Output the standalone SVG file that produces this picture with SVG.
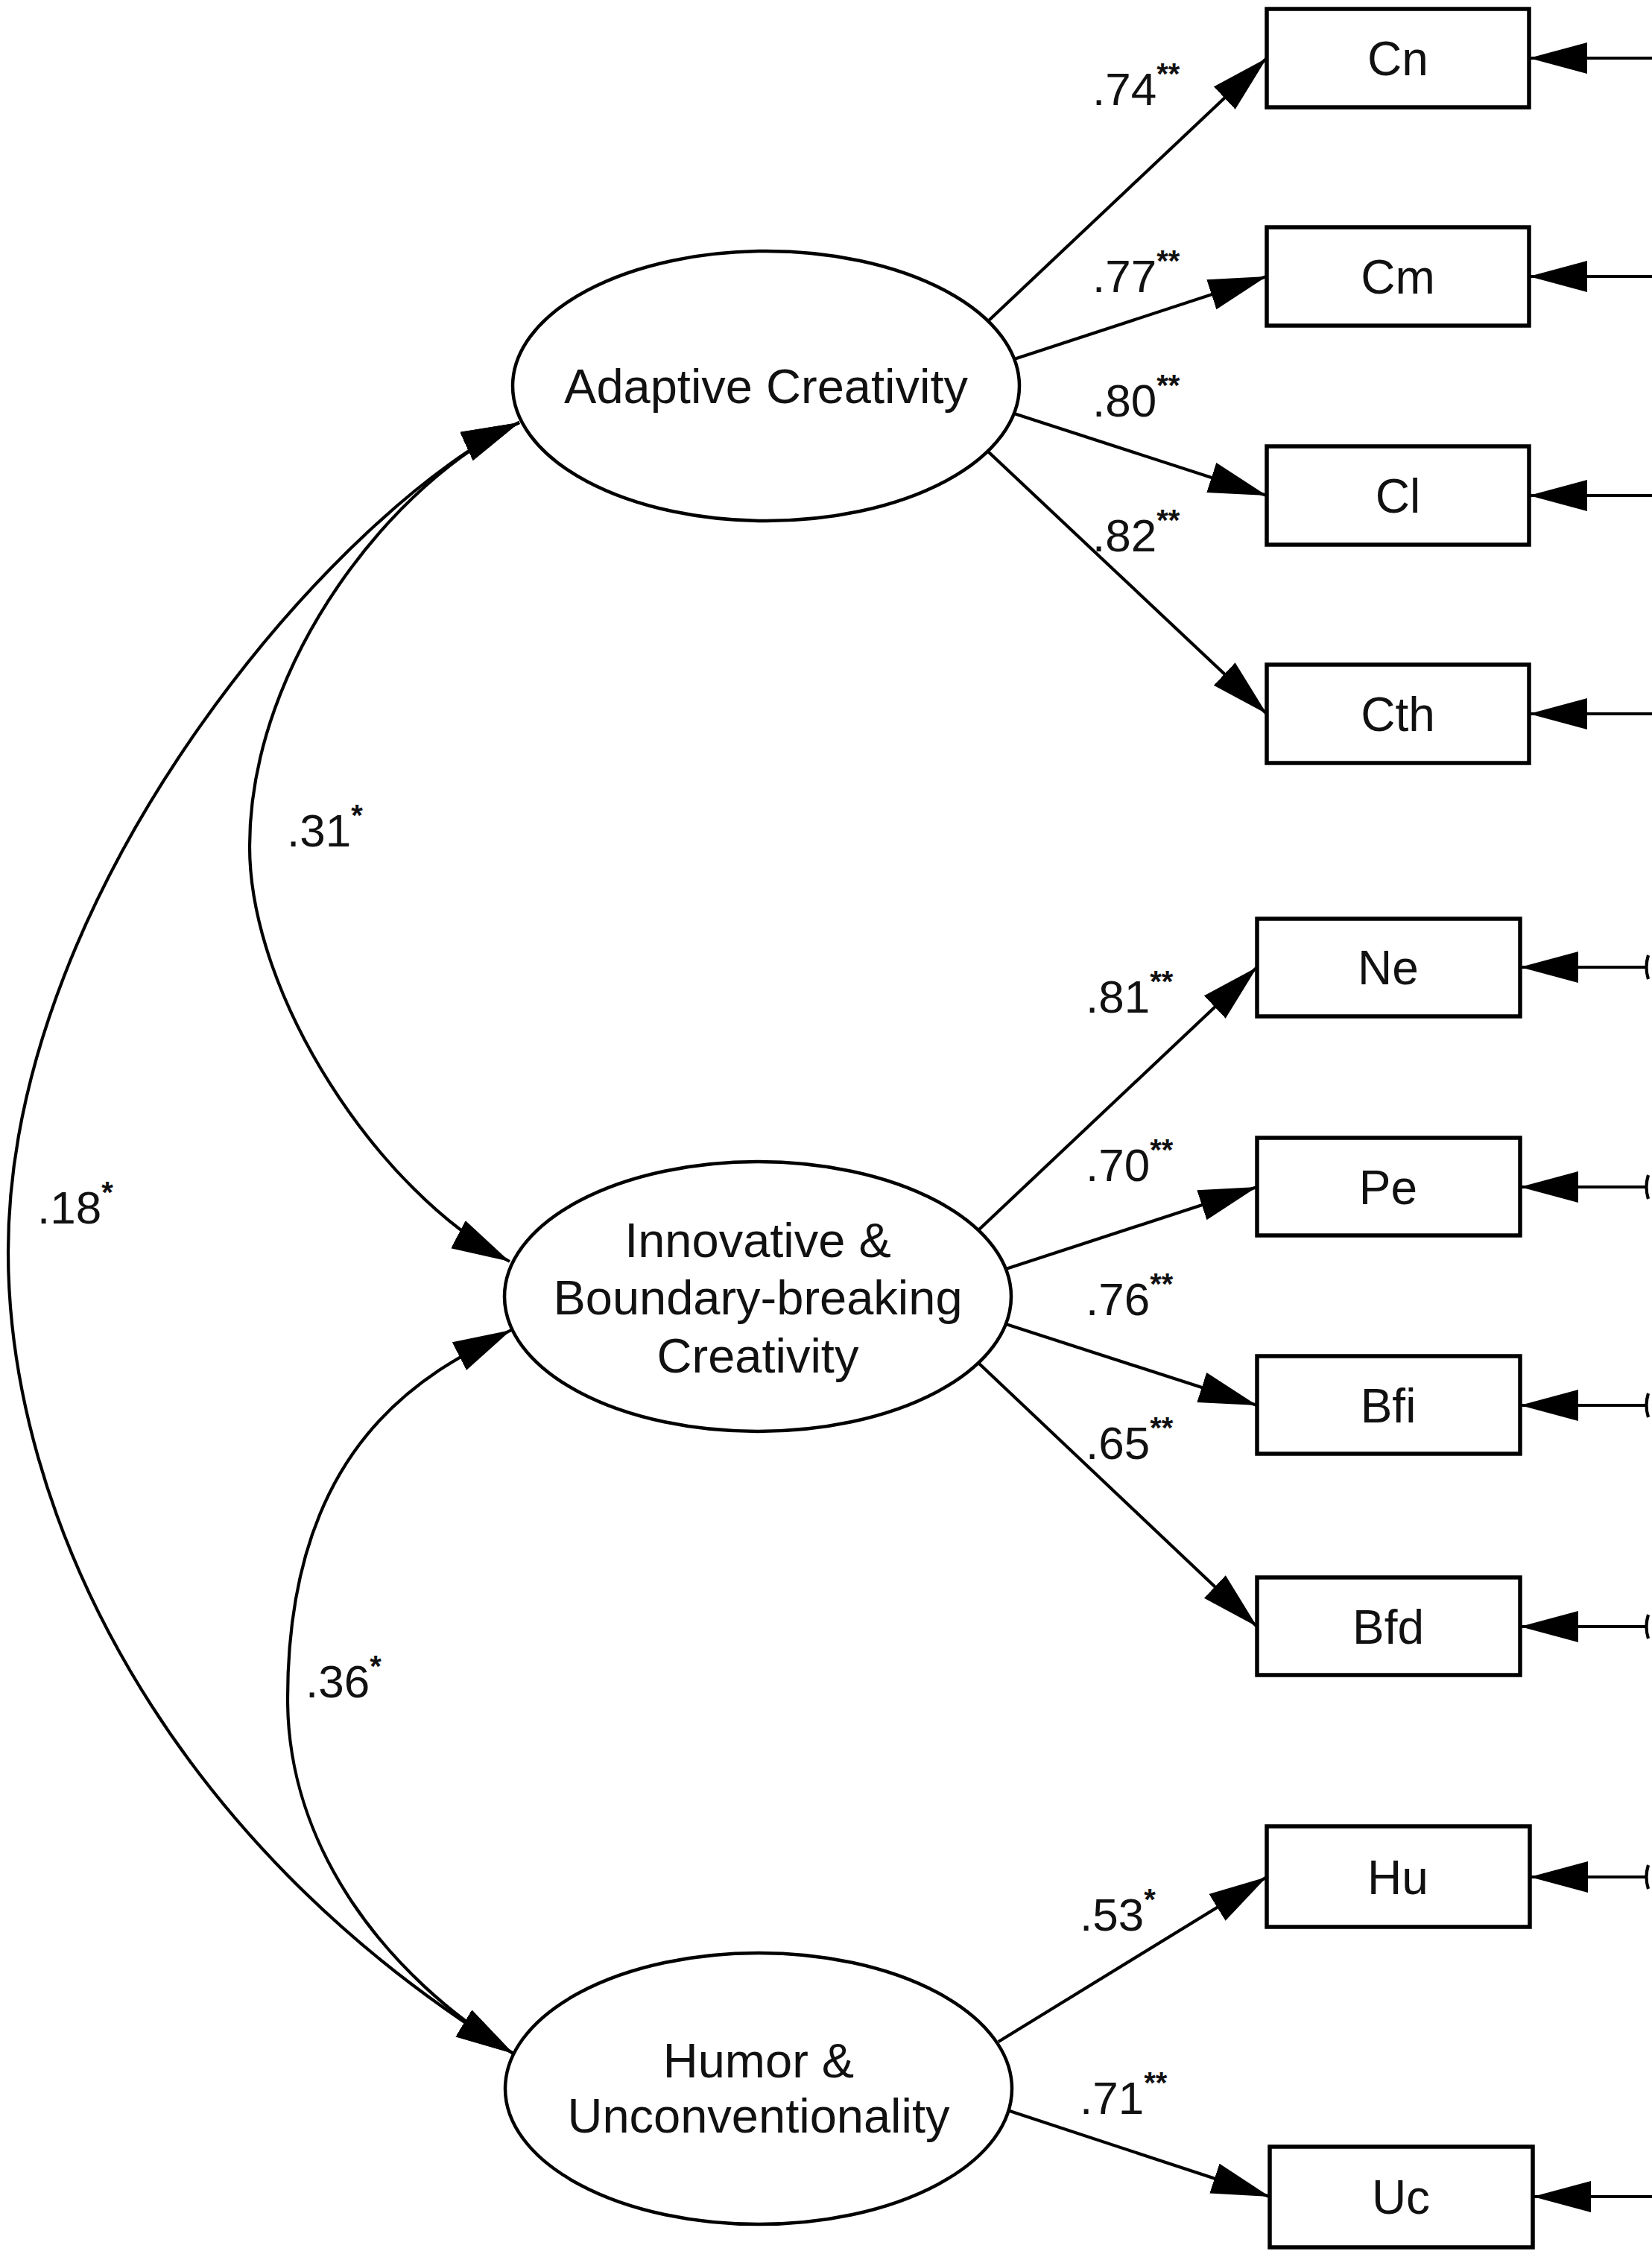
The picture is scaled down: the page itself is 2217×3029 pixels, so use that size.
<svg xmlns="http://www.w3.org/2000/svg" width="2217" height="3029" viewBox="0 0 2217 3029">
<style>
  .lat { fill: #fff; stroke: #000; stroke-width: 4.5; }
  .obs { fill: #fff; stroke: #000; stroke-width: 5.5; }
  .name { font-family: "Liberation Sans", Arial, sans-serif; font-size: 65px; fill: #111; text-anchor: middle; }
  .box { font-family: "Liberation Sans", Arial, sans-serif; font-size: 64px; fill: #111; text-anchor: middle; }
  .lbl { font-family: "Liberation Sans", Arial, sans-serif; font-size: 62px; fill: #111; }
  .sup { font-size: 40px; font-weight: bold; }
  .ln { fill: none; stroke: #000; stroke-width: 4.2; }
  .arr { marker-end: url(#ah); }
  .dbl { marker-start: url(#ah); marker-end: url(#ah); }
</style>
<defs>
  <marker id="ah" markerUnits="userSpaceOnUse" viewBox="0 0 80 44" markerWidth="80" markerHeight="44" refX="78" refY="21" orient="auto-start-reverse">
    <path d="M0,0 L78,21 L0,42 Z" fill="#000"/>
  </marker>
</defs>

<g id="connectors">
  <!-- covariances -->
  <path class="ln dbl" d="M697,567 C469,670 11,1180 11,1680 C11,2030 221,2470 689,2756"/>
  <path class="ln dbl" d="M697,567 C533,641 335,886 335,1136 C335,1336 507,1600 684,1693"/>
  <path class="ln dbl" d="M686,1785 C579,1839 386,1930 386,2280 C386,2480 518,2652 689,2756"/>
  <!-- loadings -->
  <line class="ln arr" x1="1326" y1="431" x2="1700" y2="78"/>
  <line class="ln arr" x1="1361" y1="482" x2="1700" y2="371"/>
  <line class="ln arr" x1="1361" y1="555" x2="1700" y2="665"/>
  <line class="ln arr" x1="1326" y1="606" x2="1700" y2="958"/>
  <line class="ln arr" x1="1314" y1="1650" x2="1687" y2="1298"/>
  <line class="ln arr" x1="1350" y1="1703" x2="1687" y2="1593"/>
  <line class="ln arr" x1="1350" y1="1777" x2="1687" y2="1886"/>
  <line class="ln arr" x1="1314" y1="1830" x2="1687" y2="2183"/>
  <line class="ln arr" x1="1340" y1="2740" x2="1700" y2="2519"/>
  <line class="ln arr" x1="1355" y1="2833" x2="1704" y2="2948"/>
  <!-- errors -->
  <line class="ln arr" x1="2217" y1="78" x2="2052" y2="78"/>
  <line class="ln arr" x1="2217" y1="371" x2="2052" y2="371"/>
  <line class="ln arr" x1="2217" y1="665" x2="2052" y2="665"/>
  <line class="ln arr" x1="2217" y1="958" x2="2052" y2="958"/>
  <line class="ln arr" x1="2209" y1="1298" x2="2040" y2="1298"/>
  <line class="ln arr" x1="2209" y1="1593" x2="2040" y2="1593"/>
  <line class="ln arr" x1="2209" y1="1886" x2="2040" y2="1886"/>
  <line class="ln arr" x1="2209" y1="2183" x2="2040" y2="2183"/>
  <line class="ln arr" x1="2209" y1="2519" x2="2053" y2="2519"/>
  <line class="ln arr" x1="2217" y1="2948" x2="2057" y2="2948"/>
  <path class="ln" d="M2212,1282 Q2207,1298 2212,1314"/>
  <path class="ln" d="M2212,1577 Q2207,1593 2212,1609"/>
  <path class="ln" d="M2212,1870 Q2207,1886 2212,1902"/>
  <path class="ln" d="M2212,2167 Q2207,2183 2212,2199"/>
  <path class="ln" d="M2212,2503 Q2207,2519 2212,2535"/>
  <!-- labels -->
  <text class="lbl" x="1466" y="141">.74<tspan class="sup" dy="-28">**</tspan></text>
  <text class="lbl" x="1466" y="392">.77<tspan class="sup" dy="-28">**</tspan></text>
  <text class="lbl" x="1466" y="559">.80<tspan class="sup" dy="-28">**</tspan></text>
  <text class="lbl" x="1466" y="740">.82<tspan class="sup" dy="-28">**</tspan></text>
  <text class="lbl" x="1457" y="1359">.81<tspan class="sup" dy="-28">**</tspan></text>
  <text class="lbl" x="1457" y="1585">.70<tspan class="sup" dy="-28">**</tspan></text>
  <text class="lbl" x="1457" y="1765">.76<tspan class="sup" dy="-28">**</tspan></text>
  <text class="lbl" x="1457" y="1958">.65<tspan class="sup" dy="-28">**</tspan></text>
  <text class="lbl" x="1449" y="2591">.53<tspan class="sup" dy="-28">*</tspan></text>
  <text class="lbl" x="1449" y="2837">.71<tspan class="sup" dy="-28">**</tspan></text>
  <text class="lbl" x="385" y="1136">.31<tspan class="sup" dy="-28">*</tspan></text>
  <text class="lbl" x="50" y="1642">.18<tspan class="sup" dy="-28">*</tspan></text>
  <text class="lbl" x="410" y="2278">.36<tspan class="sup" dy="-28">*</tspan></text>
</g>

<g id="adaptive">
  <ellipse class="lat" cx="1028" cy="518" rx="340" ry="181"/>
  <text class="name" x="1028" y="541">Adaptive Creativity</text>
</g>
<g id="innovative">
  <ellipse class="lat" cx="1017" cy="1740" rx="340" ry="181"/>
  <text class="name" x="1017" y="1687">Innovative &amp;</text>
  <text class="name" x="1017" y="1764">Boundary-breaking</text>
  <text class="name" x="1017" y="1842">Creativity</text>
</g>
<g id="humor">
  <ellipse class="lat" cx="1018" cy="2803" rx="340" ry="182"/>
  <text class="name" x="1018" y="2788">Humor &amp;</text>
  <text class="name" x="1018" y="2862">Unconventionality</text>
</g>

<g id="Cn"><rect class="obs" x="1700" y="12" width="352" height="132"/><text class="box" x="1876" y="101">Cn</text></g>
<g id="Cm"><rect class="obs" x="1700" y="305" width="352" height="132"/><text class="box" x="1876" y="394">Cm</text></g>
<g id="Cl"><rect class="obs" x="1700" y="599" width="352" height="132"/><text class="box" x="1876" y="688">Cl</text></g>
<g id="Cth"><rect class="obs" x="1700" y="892" width="352" height="132"/><text class="box" x="1876" y="981">Cth</text></g>
<g id="Ne"><rect class="obs" x="1687" y="1233" width="353" height="131"/><text class="box" x="1863" y="1321">Ne</text></g>
<g id="Pe"><rect class="obs" x="1687" y="1527" width="353" height="131"/><text class="box" x="1863" y="1616">Pe</text></g>
<g id="Bfi"><rect class="obs" x="1687" y="1820" width="353" height="131"/><text class="box" x="1863" y="1909">Bfi</text></g>
<g id="Bfd"><rect class="obs" x="1687" y="2117" width="353" height="131"/><text class="box" x="1863" y="2206">Bfd</text></g>
<g id="Hu"><rect class="obs" x="1700" y="2451" width="353" height="135"/><text class="box" x="1876" y="2542">Hu</text></g>
<g id="Uc"><rect class="obs" x="1704" y="2881" width="353" height="135"/><text class="box" x="1880" y="2971">Uc</text></g>
</svg>
